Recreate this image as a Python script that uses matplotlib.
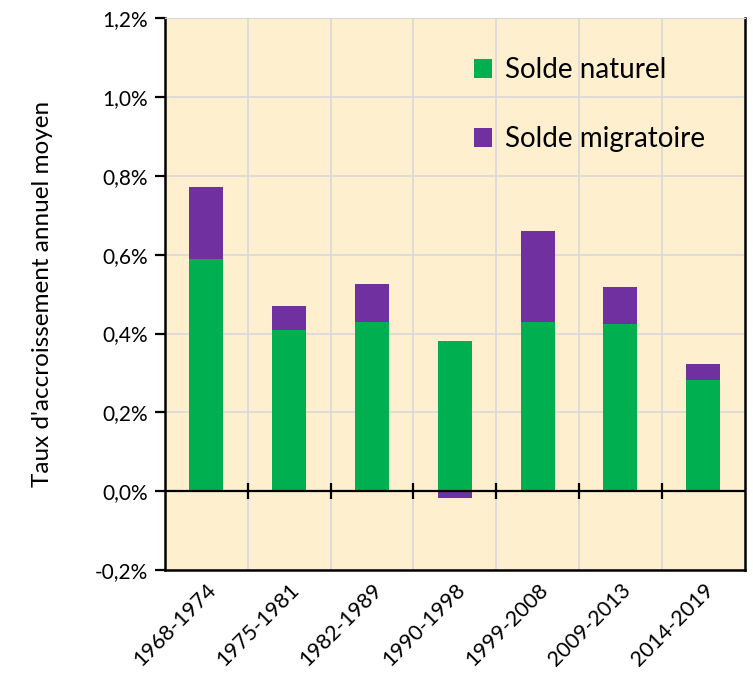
import numpy as np
import matplotlib.pyplot as plt

plt.rcParams['font.family'] = ['Lato', 'DejaVu Sans']

periods = ['1968-1974', '1975-1981', '1982-1989', '1990-1998',
           '1999-2008', '2009-2013', '2014-2019']
solde_naturel = [0.59, 0.41, 0.43, 0.382, 0.43, 0.425, 0.282]
solde_migratoire = [0.183, 0.059, 0.096, -0.018, 0.229, 0.094, 0.041]
yticks = [-0.2, 0.0, 0.2, 0.4, 0.6, 0.8, 1.0, 1.2]

green = '#00B050'
purple = '#7030A0'
bg = '#FEF0CE'

fig = plt.figure(figsize=(7.53, 6.77), dpi=100)
ax = fig.add_axes([0.219, 0.158, 0.770, 0.815])
ax.set_facecolor(bg)

x = np.arange(len(periods))
nat = np.array(solde_naturel)
mig = np.array(solde_migratoire)
w = 0.41

ax.bar(x, nat, w, color=green, label='Solde naturel', zorder=3)
mig_bottom = np.where(mig >= 0, nat, 0)
ax.bar(x, mig, w, bottom=mig_bottom, color=purple, label='Solde migratoire', zorder=3)

ax.set_xlim(-0.5, len(periods) - 0.5)
ax.set_ylim(-0.2, 1.2)

# grid
ax.set_yticks(yticks)
ax.set_yticklabels([('%.1f%%' % v).replace('.', ',') for v in yticks], fontsize=15)
for v in yticks:
    ax.axhline(v, color='#D9D9D9', lw=1.2, zorder=1)
bounds = np.arange(len(periods) - 1) + 0.5
for b in bounds:
    ax.axvline(b, color='#D9D9D9', lw=1.2, zorder=1)

# zero axis with crossing tick marks
ax.axhline(0, color='black', lw=1.6, zorder=4)
ax.plot(bounds, np.zeros_like(bounds), ls='none', marker='|', ms=12, mew=1.6,
        color='black', zorder=4)

ax.set_xticks(x)
ax.set_xticklabels(periods, rotation=45, ha='right', rotation_mode='anchor', fontsize=15.5)
ax.tick_params(axis='x', length=0, pad=7)
ax.tick_params(axis='y', length=7, width=1.6, direction='out', pad=5)

for s in ['left', 'bottom', 'right']:
    ax.spines[s].set_color('black')
    ax.spines[s].set_linewidth(1.8)
ax.spines['top'].set_color('#D9D9D9')

ax.set_ylabel("Taux d'accroissement annuel moyen", fontsize=17.5, labelpad=30)

ax.legend(loc='upper left', bbox_to_anchor=(0.49, 0.975), frameon=False,
          fontsize=20, handlelength=0.65, handleheight=0.65, handletextpad=0.45,
          labelspacing=1.55)

fig.savefig('out.png', dpi=100, facecolor='white')
